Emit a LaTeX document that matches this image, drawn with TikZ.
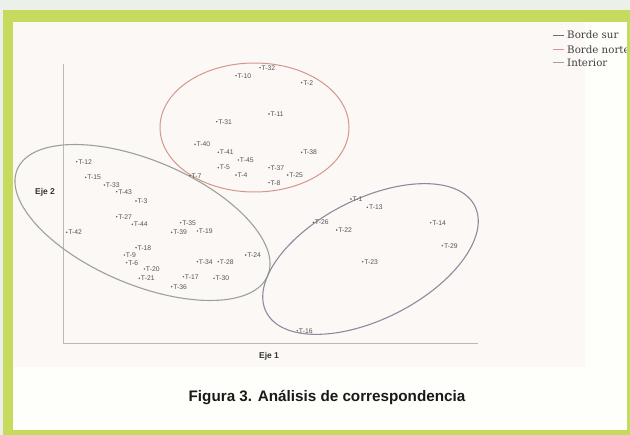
\documentclass[tikz,border=0pt]{standalone}
\usepackage{fontspec}
\setmainfont{Liberation Serif}
\setsansfont{Liberation Sans}
\newfontfamily\leyfont{DejaVu Serif}
\definecolor{fondo}{HTML}{EBF0EA}
\definecolor{marco}{HTML}{C6DB5E}
\definecolor{hoja}{HTML}{FEFEFA}
\definecolor{grafico}{HTML}{FBF8F6}
\definecolor{colsur}{HTML}{8F8A9E}
\definecolor{colnorte}{HTML}{D6968F}
\definecolor{colint}{HTML}{9CA298}
\definecolor{coltxt}{HTML}{555555}
\tikzset{
  punto/.style={circle, fill=coltxt, inner sep=0pt, minimum size=1.6bp},
  etiq/.style={font=\sffamily\fontsize{6.8}{7}\selectfont, text=coltxt, inner sep=1pt, xshift=-0.5bp},
  eje/.style={draw=gray!55, line width=0.8bp},
  leyenda/.style={anchor=west, font=\leyfont\fontsize{10.3}{11}\selectfont, text=black!75, inner sep=0pt}
}
\begin{document}
\begin{tikzpicture}[x=1bp, y=-1bp]
\useasboundingbox (0,0) rectangle (630,435);
% fondo y marco
\fill[fondo] (0,0) rectangle (630,435);
\fill[marco] (3,10) rectangle (630,435);
\fill[hoja] (13,22) rectangle (627,430);
\fill[grafico] (13,22) rectangle (585,367);
% ejes
\coordinate (origen) at (63,343);
\coordinate (arriba) at (63,64);
\coordinate (derecha) at (478,343);
\draw[eje] (arriba) -- (origen) -- (derecha);
\node[font=\sffamily\bfseries\fontsize{8.5}{9}\selectfont, text=black!80] (eje2) at (45,192) {Eje 2};
\node[font=\sffamily\bfseries\fontsize{8.5}{9}\selectfont, text=black!80] (eje1) at (269,356) {Eje 1};
% elipses
\draw[colnorte, line width=1bp] (254.5,127.5) ellipse [x radius=94.5, y radius=64.5];
\draw[colint, line width=1.1bp, rotate around={-23:(142.5,222.5)}] (142.5,222.5) ellipse [x radius=136, y radius=62];
\draw[colsur, line width=1.1bp, rotate around={27:(370.5,259)}] (370.5,259) ellipse [x radius=117, y radius=60];
% borde norte
\node[punto, label={[etiq]right:T-32}] (t32) at (260,67.7) {};
\node[punto, label={[etiq]right:T-10}] (t10) at (236,75.7) {};
\node[punto, label={[etiq]right:T-2}] (t2) at (301.7,82.7) {};
\node[punto, label={[etiq]right:T-11}] (t11) at (269,114) {};
\node[punto, label={[etiq]right:T-31}] (t31) at (216.7,121.7) {};
\node[punto, label={[etiq]right:T-40}] (t40) at (195,144.3) {};
\node[punto, label={[etiq]right:T-41}] (t41) at (218.3,152.3) {};
\node[punto, label={[etiq]right:T-45}] (t45) at (238.3,160) {};
\node[punto, label={[etiq]right:T-38}] (t38) at (301.7,152.3) {};
\node[punto, label={[etiq]right:T-5}] (t5) at (218.3,167.7) {};
\node[punto, label={[etiq]right:T-37}] (t37) at (269,167.7) {};
\node[punto, label={[etiq]right:T-7}] (t7) at (190,175.7) {};
\node[punto, label={[etiq]right:T-4}] (t4) at (236,175) {};
\node[punto, label={[etiq]right:T-25}] (t25) at (287.7,175) {};
\node[punto, label={[etiq]right:T-8}] (t8) at (269,182.7) {};
% interior
\node[punto, label={[etiq]right:T-12}] (t12) at (76.7,161.7) {};
\node[punto, label={[etiq]right:T-15}] (t15) at (85.7,177.3) {};
\node[punto, label={[etiq]right:T-33}] (t33) at (104.3,185) {};
\node[punto, label={[etiq]right:T-43}] (t43) at (116.7,191.7) {};
\node[punto, label={[etiq]right:T-3}] (t3) at (136,201) {};
\node[punto, label={[etiq]right:T-27}] (t27) at (116.7,216.7) {};
\node[punto, label={[etiq]right:T-44}] (t44) at (132.3,224.3) {};
\node[punto, label={[etiq]right:T-42}] (t42) at (66.7,232.3) {};
\node[punto, label={[etiq]right:T-35}] (t35) at (180.7,222.7) {};
\node[punto, label={[etiq]right:T-39}] (t39) at (171.7,232.3) {};
\node[punto, label={[etiq]right:T-19}] (t19) at (197.3,231) {};
\node[punto, label={[etiq]right:T-18}] (t18) at (136,247.7) {};
\node[punto, label={[etiq]right:T-9}] (t9) at (124.3,255) {};
\node[punto, label={[etiq]right:T-6}] (t6) at (126.7,262.7) {};
\node[punto, label={[etiq]right:T-20}] (t20) at (144.3,269) {};
\node[punto, label={[etiq]right:T-21}] (t21) at (139.3,278.3) {};
\node[punto, label={[etiq]right:T-34}] (t34) at (197.3,261.7) {};
\node[punto, label={[etiq]right:T-28}] (t28) at (218.3,261.7) {};
\node[punto, label={[etiq]right:T-24}] (t24) at (245.7,255) {};
\node[punto, label={[etiq]right:T-17}] (t17) at (183.3,276.7) {};
\node[punto, label={[etiq]right:T-30}] (t30) at (214,278.3) {};
\node[punto, label={[etiq]right:T-36}] (t36) at (171.7,286.7) {};
% borde sur
\node[punto, label={[etiq]right:T-1}] (t1) at (351,199) {};
\node[punto, label={[etiq]right:T-13}] (t13) at (367.3,207.3) {};
\node[punto, label={[etiq]right:T-26}] (t26) at (313.3,222.3) {};
\node[punto, label={[etiq]right:T-22}] (t22) at (336.7,230) {};
\node[punto, label={[etiq]right:T-14}] (t14) at (430.7,222.7) {};
\node[punto, label={[etiq]right:T-29}] (t29) at (442.3,245.7) {};
\node[punto, label={[etiq]right:T-23}] (t23) at (362.7,261.7) {};
\node[punto, label={[etiq]right:T-16}] (t16) at (297.3,330.7) {};
% leyenda
\coordinate (ls1) at (553,35);
\coordinate (ls2) at (564,35);
\coordinate (ln1) at (553,49.3);
\coordinate (ln2) at (564,49.3);
\coordinate (li1) at (553,62.7);
\coordinate (li2) at (564,62.7);
\draw[colsur!80!black, line width=0.8bp] (ls1) -- (ls2);
\draw[colnorte, line width=0.8bp] (ln1) -- (ln2);
\draw[colint, line width=0.8bp] (li1) -- (li2);
\node[leyenda] (lsur) at (567,35) {Borde sur};
\node[leyenda] (lnorte) at (567,49.3) {Borde norte};
\node[leyenda] (lint) at (567,62.7) {Interior};
% marco derecho tapa la leyenda
\fill[marco] (627,10) rectangle (630,435);
% titulo
\node[font=\sffamily\bfseries\fontsize{15.3}{16}\selectfont, text=black!90] (titulo) at (327,398) {Figura 3. Análisis de correspondencia};
\end{tikzpicture}
\end{document}
